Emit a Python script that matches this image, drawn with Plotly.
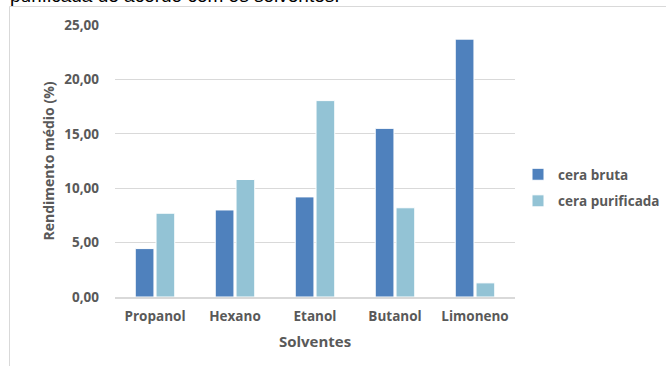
import plotly.graph_objects as go

solventes = ["Propanol", "Hexano", "Etanol", "Butanol", "Limoneno"]
cera_bruta = [4.45, 8.00, 9.20, 15.50, 23.70]
cera_purificada = [7.70, 10.80, 18.05, 8.20, 1.30]
y_ticks = [0, 5, 10, 15, 20, 25]

FONT = "Open Sans"
GRAY = "#595959"

fig = go.Figure()
fig.add_trace(go.Bar(
    x=solventes, y=cera_bruta, name="cera bruta", legendgroup="a",
    marker=dict(color="#4F81BD", line=dict(color="white", width=1)),
))
fig.add_trace(go.Bar(
    x=solventes, y=cera_purificada, name="cera purificada", legendgroup="b",
    marker=dict(color="#93C3D5", line=dict(color="white", width=1)),
))

L, R, T, B = 115, 151, 25, 69
W, H = 666, 366
pw, ph = W - L - R, H - T - B

def px(x):
    return (x - L) / pw

def py(y):
    return (H - B - y) / ph

fig.update_layout(
    width=W, height=H,
    margin=dict(l=L, r=R, t=T, b=B, pad=0, autoexpand=False),
    paper_bgcolor="white", plot_bgcolor="white",
    barmode="group", bargap=0.48, bargroupgap=0.1,
    separators=",.",
    font=dict(family=FONT, color=GRAY, size=12),
    legend=dict(
        xref="container", yref="container",
        x=518 / W, y=1 - 159 / H, xanchor="left", yanchor="top",
        font=dict(family=FONT, size=13.5, color=GRAY, weight="bold"),
        traceorder="grouped", tracegroupgap=6,
        bgcolor="rgba(0,0,0,0)",
    ),
    xaxis=dict(
        showgrid=False, showline=True, linecolor="#D9D9D9", linewidth=2,
        tickfont=dict(family=FONT, size=13.5, color=GRAY, weight="bold"),
        ticklabelstandoff=6,
        title=dict(text="Solventes", font=dict(family=FONT, size=15, color=GRAY, weight="bold"), standoff=12),
        fixedrange=True,
    ),
    yaxis=dict(
        range=[0, 25], tickvals=y_ticks, tickformat=".2f",
        showgrid=True, gridcolor="#D9D9D9", gridwidth=1,
        zeroline=False, showline=False,
        ticklabelstandoff=15,
        tickfont=dict(family=FONT, size=13.5, color=GRAY, weight="bold"),
        title=dict(text="Rendimento médio (%)", font=dict(family=FONT, size=14, color=GRAY, weight="bold"), standoff=6),
        fixedrange=True,
    ),
    shapes=[dict(
        type="rect", xref="paper", yref="paper",
        x0=px(9.5), x1=px(720), y0=py(420), y1=py(6.5),
        line=dict(color="#D9D9D9", width=1), fillcolor="rgba(0,0,0,0)", layer="below",
    )],
    annotations=[dict(
        text="purificada de acordo com os solventes.",
        xref="paper", yref="paper", x=px(8), y=py(8),
        xanchor="left", yanchor="bottom", showarrow=False,
        font=dict(family="Liberation Sans", size=19, color="black"),
    )],
)

fig.write_html("out.html")
